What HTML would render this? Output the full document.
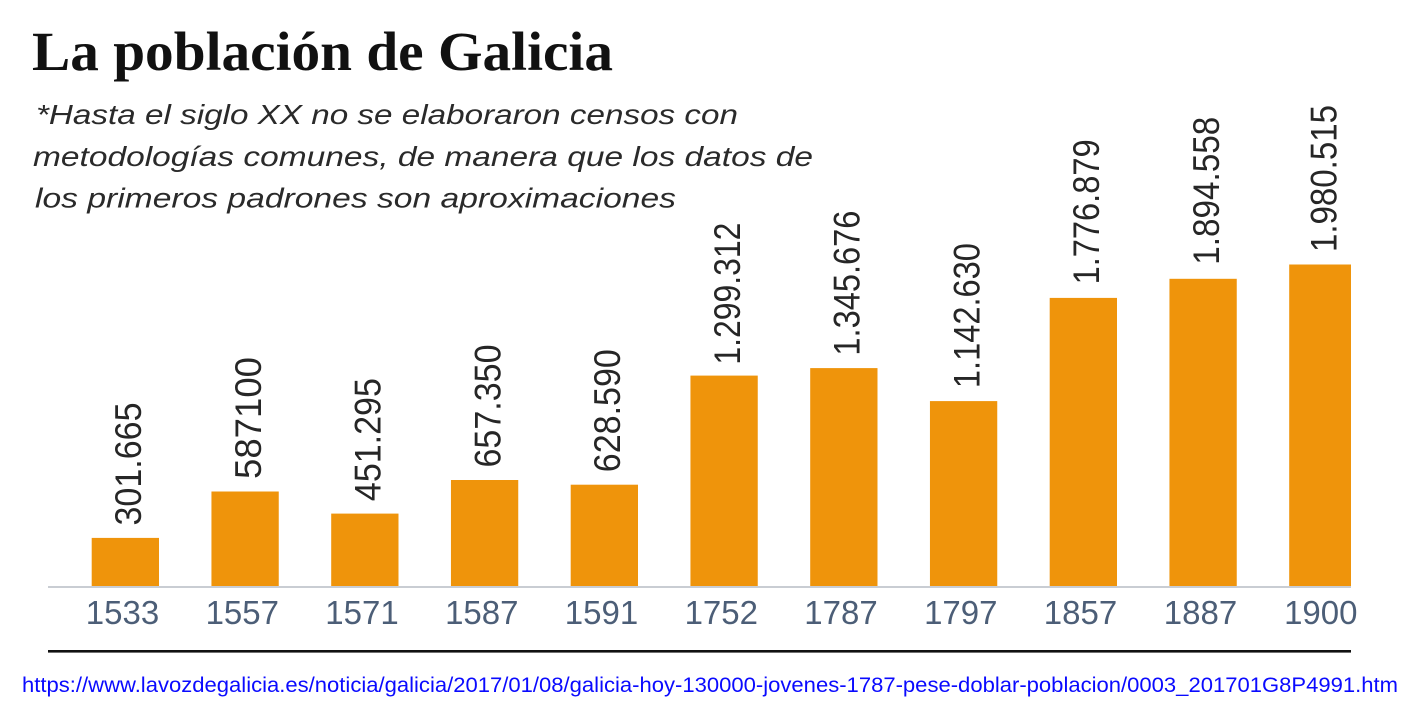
<!DOCTYPE html>
<html>
<head>
<meta charset="utf-8">
<style>
  html, body { margin:0; padding:0; background:#ffffff; }
  body { width:1417px; height:709px; overflow:hidden; }
  svg { display:block; }
</style>
</head>
<body>
<svg width="1417" height="709" viewBox="0 0 1417 709" xmlns="http://www.w3.org/2000/svg">
  <rect x="0" y="0" width="1417" height="709" fill="#ffffff"/>

  <!-- Title -->
  <text x="32" y="70" font-family="'Liberation Serif', serif" font-weight="bold" font-size="55" fill="#111111" textLength="581" lengthAdjust="spacingAndGlyphs">La población de Galicia</text>

  <!-- Subtitle -->
  <g font-family="'Liberation Sans', sans-serif" font-style="italic" font-size="28" fill="#2a2a2a">
    <text x="36" y="124" textLength="702" lengthAdjust="spacingAndGlyphs">*Hasta el siglo XX no se elaboraron censos con</text>
    <text x="33" y="166" textLength="780" lengthAdjust="spacingAndGlyphs">metodologías comunes, de manera que los datos de</text>
    <text x="35" y="207.5" textLength="641" lengthAdjust="spacingAndGlyphs">los primeros padrones son aproximaciones</text>
  </g>

  <!-- Axis line -->
  <rect x="48" y="586" width="1303" height="2" fill="#c9cdd3"/>

  <!-- Bars -->
  <g fill="#ef940b">
    <rect x="91.7"   y="537.9" width="67.3" height="48.1"/>
    <rect x="211.45" y="491.5" width="67.3" height="94.5"/>
    <rect x="331.2"  y="513.6" width="67.3" height="72.4"/>
    <rect x="450.95" y="480.0" width="67.3" height="106.0"/>
    <rect x="570.7"  y="484.7" width="67.3" height="101.3"/>
    <rect x="690.45" y="375.6" width="67.3" height="210.4"/>
    <rect x="810.2"  y="368.1" width="67.3" height="217.9"/>
    <rect x="929.95" y="401.1" width="67.3" height="184.9"/>
    <rect x="1049.7" y="297.9" width="67.3" height="288.1"/>
    <rect x="1169.45" y="278.8" width="67.3" height="307.2"/>
    <rect x="1289.2" y="264.5" width="61.8" height="321.5"/>
  </g>

  <!-- Value labels (rotated) -->
  <g font-family="'Liberation Sans', sans-serif" font-size="37" fill="#262626">
    <text transform="translate(141.2,525.5) rotate(-90)" textLength="123" lengthAdjust="spacingAndGlyphs">301.665</text>
    <text transform="translate(261.0,479.0) rotate(-90)" textLength="122" lengthAdjust="spacingAndGlyphs">587100</text>
    <text transform="translate(380.7,501.1) rotate(-90)" textLength="123" lengthAdjust="spacingAndGlyphs">451.295</text>
    <text transform="translate(500.4,467.5) rotate(-90)" textLength="123" lengthAdjust="spacingAndGlyphs">657.350</text>
    <text transform="translate(620.2,472.2) rotate(-90)" textLength="123" lengthAdjust="spacingAndGlyphs">628.590</text>
    <text transform="translate(739.9,364.6) rotate(-90)" textLength="142" lengthAdjust="spacingAndGlyphs">1.299.312</text>
    <text transform="translate(859.7,355.6) rotate(-90)" textLength="145" lengthAdjust="spacingAndGlyphs">1.345.676</text>
    <text transform="translate(979.4,388.1) rotate(-90)" textLength="145" lengthAdjust="spacingAndGlyphs">1.142.630</text>
    <text transform="translate(1099.2,284.4) rotate(-90)" textLength="145" lengthAdjust="spacingAndGlyphs">1.776.879</text>
    <text transform="translate(1218.9,264.8) rotate(-90)" textLength="148" lengthAdjust="spacingAndGlyphs">1.894.558</text>
    <text transform="translate(1336.7,252.0) rotate(-90)" textLength="147" lengthAdjust="spacingAndGlyphs">1.980.515</text>
  </g>

  <!-- Year labels -->
  <g font-family="'Liberation Sans', sans-serif" font-size="33" fill="#4c5e77" text-anchor="middle">
    <text x="122.5" y="624">1533</text>
    <text x="242.3" y="624">1557</text>
    <text x="362.0" y="624">1571</text>
    <text x="481.8" y="624">1587</text>
    <text x="601.5" y="624">1591</text>
    <text x="721.3" y="624">1752</text>
    <text x="841.0" y="624">1787</text>
    <text x="960.8" y="624">1797</text>
    <text x="1080.5" y="624">1857</text>
    <text x="1200.5" y="624">1887</text>
    <text x="1320.8" y="624">1900</text>
  </g>

  <!-- Black rule -->
  <rect x="48" y="650" width="1303" height="2.6" fill="#111111"/>

  <!-- URL -->
  <text x="22" y="692" font-family="'Liberation Sans', sans-serif" font-size="21" fill="#0a0aff" textLength="1376" lengthAdjust="spacingAndGlyphs">https://www.lavozdegalicia.es/noticia/galicia/2017/01/08/galicia-hoy-130000-jovenes-1787-pese-doblar-poblacion/0003_201701G8P4991.htm</text>
</svg>
</body>
</html>
